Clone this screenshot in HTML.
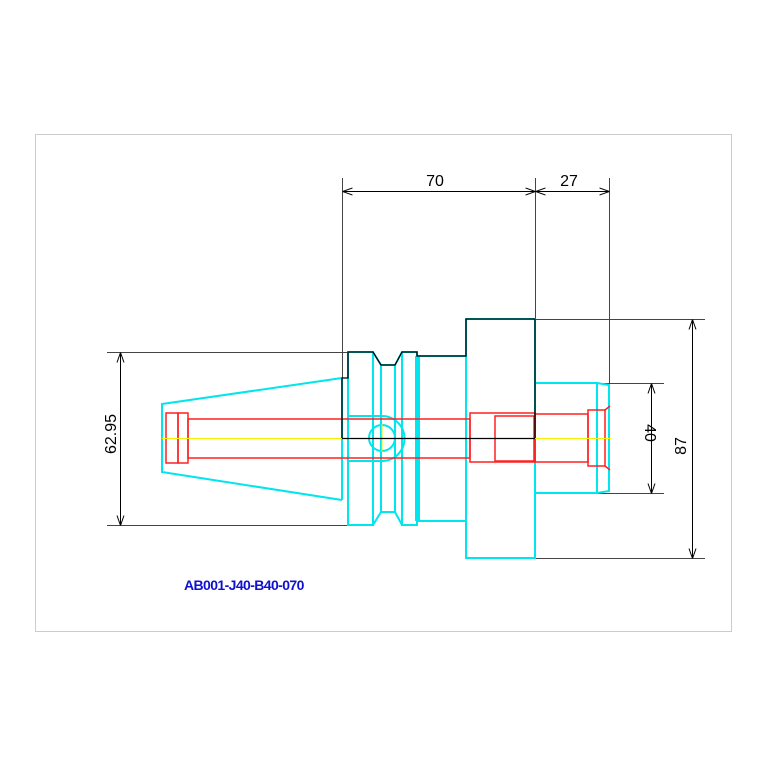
<!DOCTYPE html>
<html><head><meta charset="utf-8"><style>
html,body{margin:0;padding:0;background:#fff;}
svg{display:block;}
text{font-family:"Liberation Sans",sans-serif;}
</style></head><body>
<svg width="767" height="767" viewBox="0 0 767 767" xmlns="http://www.w3.org/2000/svg">
<defs>
<marker id="a" viewBox="0 0 10 10" refX="10" refY="5" markerWidth="10" markerHeight="10" orient="auto-start-reverse" markerUnits="userSpaceOnUse">
<path d="M0,1.5 L10,5 L0,8.5" fill="none" stroke="#000" stroke-width="1"/>
</marker>
</defs>
<rect x="35.5" y="134.5" width="696" height="497" fill="none" stroke="#ccc" stroke-width="1"/>

<g stroke="#444" stroke-width="1" fill="none">
<line x1="342.5" y1="178" x2="342.5" y2="438"/>
<line x1="535.5" y1="178" x2="535.5" y2="438"/>
<line x1="609.5" y1="178" x2="609.5" y2="383"/>
<line x1="107" y1="352.5" x2="347" y2="352.5"/>
<line x1="107" y1="525.5" x2="347" y2="525.5"/>
<line x1="535" y1="319.5" x2="705" y2="319.5"/>
<line x1="535" y1="558.5" x2="705" y2="558.5"/>
<line x1="597" y1="383.5" x2="664" y2="383.5"/>
<line x1="597" y1="493.5" x2="664" y2="493.5"/>
</g>
<g stroke="#000" stroke-width="1" fill="none" marker-start="url(#a)" marker-end="url(#a)">
<line x1="342.5" y1="191.5" x2="535.5" y2="191.5"/>
<line x1="535.5" y1="191.5" x2="609.5" y2="191.5"/>
<line x1="120.5" y1="352.5" x2="120.5" y2="525.5"/>
<line x1="692.5" y1="319.5" x2="692.5" y2="558.5"/>
<line x1="651.5" y1="383.5" x2="651.5" y2="493.5"/>
</g>
<g font-size="16" fill="#000" text-anchor="middle">
<text x="435" y="186">70</text>
<text x="569" y="186">27</text>
<text transform="translate(116,434) rotate(-90)">62.95</text>
<text transform="translate(686,446) rotate(-90)">87</text>
<text transform="translate(645,433) rotate(90)">40</text>
</g>

<g stroke="#00e5ee" stroke-width="2" fill="none">
<polyline points="342,378 162,404 162,472 342,500"/>
<rect x="348" y="352" width="25" height="173"/>
<polyline points="373,352 381,365 395,365 402,352"/>
<polyline points="373,525 381,512 395,512 402,525"/>
<line x1="381" y1="365" x2="381" y2="512"/>
<line x1="395" y1="365" x2="395" y2="512"/>
<rect x="402" y="352" width="15" height="173"/>
<polyline points="417,356 466,356 466,521 417,521"/>
<rect x="466" y="319" width="69" height="239"/>
<rect x="535" y="383" width="62" height="110"/>
<polygon points="597,383 609,385 609,491 597,493"/>
<path d="M348,416 L382,416 A22,22 0 0 1 382,461 L348,461"/>
<circle cx="382" cy="438" r="13"/>
<line x1="342" y1="378" x2="342" y2="500"/>
</g>
<rect x="415" y="356" width="5" height="165" fill="#00e5ee"/>

<g stroke="#ff2020" stroke-width="1.5" fill="none">
<rect x="166" y="413" width="12" height="50"/>
<rect x="178" y="413" width="10" height="50"/>
<rect x="188" y="419" width="282" height="39"/>
<rect x="470" y="413" width="65" height="49"/>
<rect x="495" y="416" width="39" height="45"/>
<rect x="535" y="414" width="53" height="48"/>
<rect x="588" y="410" width="17" height="56"/>
<polyline points="605,410 610,406"/>
<polyline points="605,466 610,470"/>
</g>

<g stroke="#f0f000" stroke-width="1">
<line x1="162" y1="438.5" x2="342" y2="438.5"/>
<line x1="382" y1="424" x2="382" y2="452"/>
<line x1="535" y1="438.5" x2="611" y2="438.5"/>
</g>

<g stroke="#000" stroke-width="1.3" fill="none">
<polyline points="342,438 342,378 348,378 348,352 373,352 381,365 395,365 402,352 417,352 417,356 466,356 466,319 535,319 535,438"/>
<line x1="342" y1="438.5" x2="535" y2="438.5"/>
</g>

<text x="184" y="590" font-size="14" font-weight="bold" fill="#1010d0" letter-spacing="-0.6">AB001-J40-B40-070</text>
</svg>
</body></html>
